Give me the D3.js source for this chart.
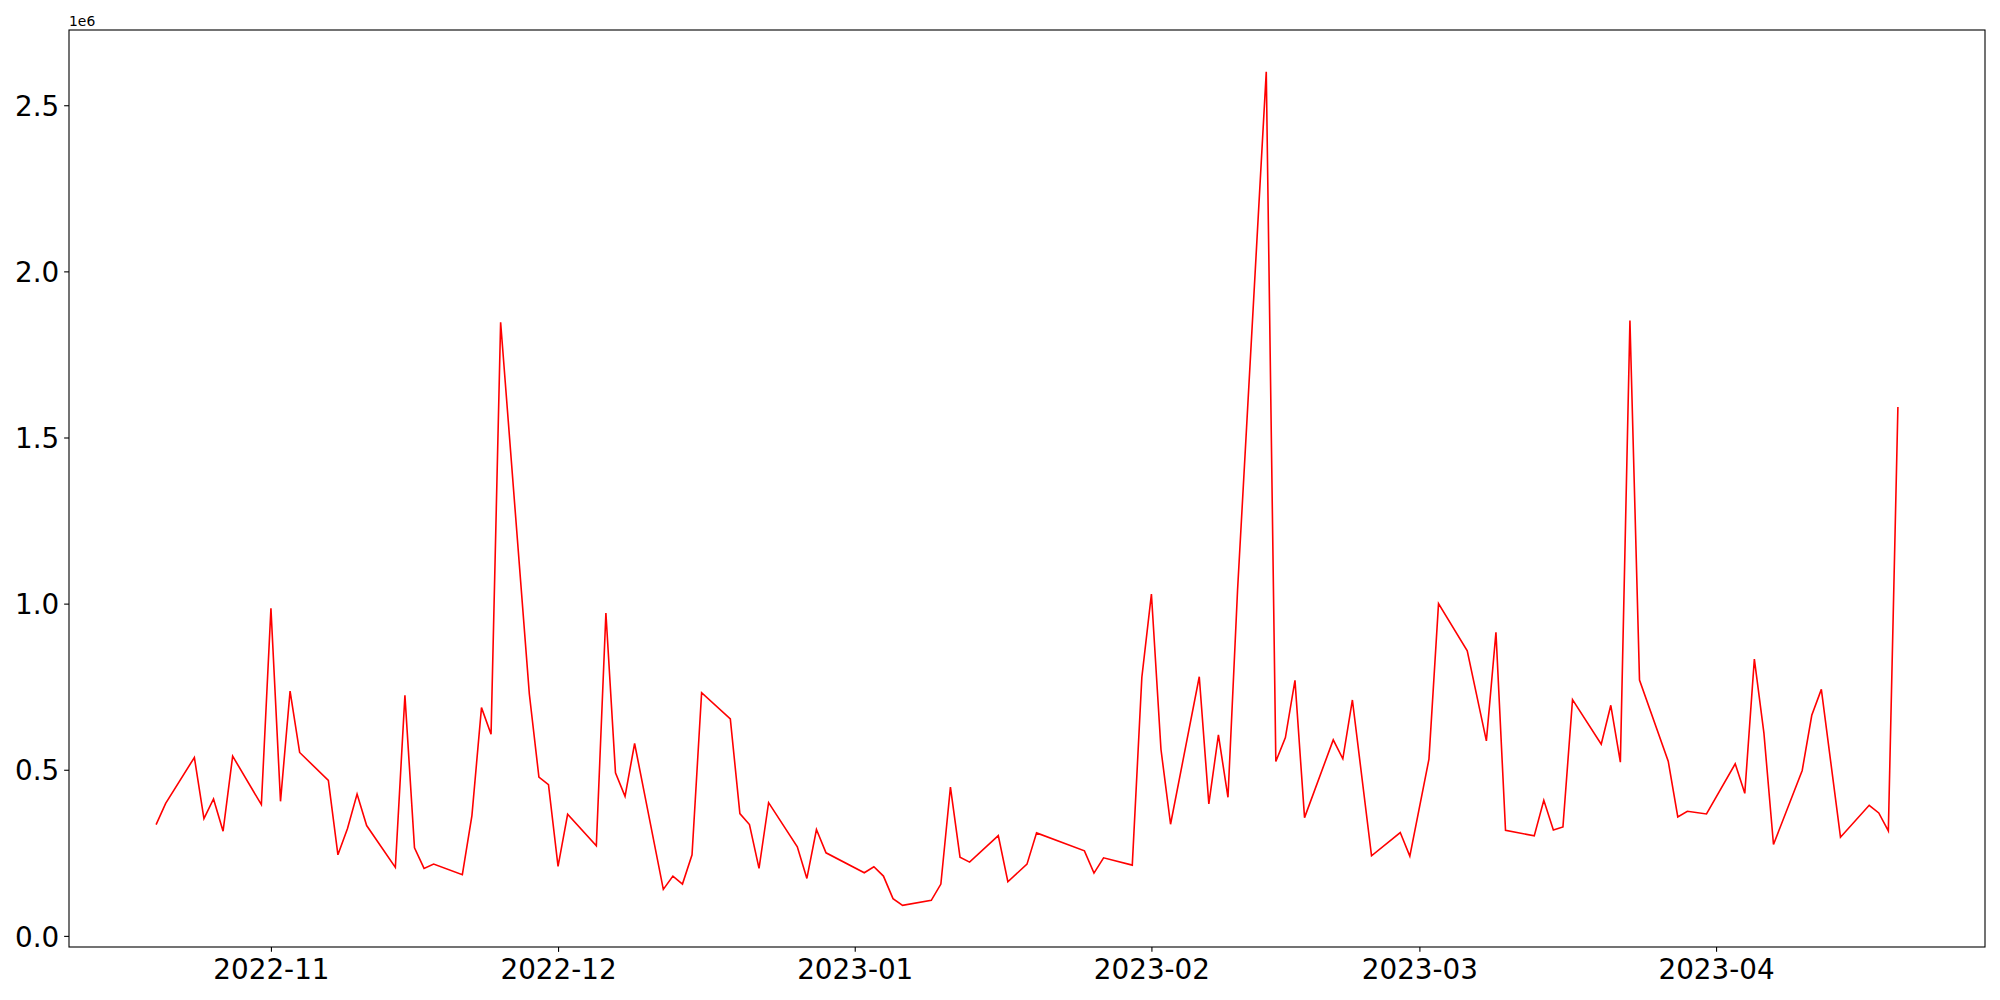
<!DOCTYPE html>
<html>
<head>
<meta charset="utf-8">
<script src="https://cdn.jsdelivr.net/npm/d3@7"></script>
<style>
  body { margin: 0; background: #fff; }
  svg text { font-family: "DejaVu Sans", sans-serif; fill: #000; }
</style>
</head>
<body>
<div id="chart"></div>
<script>
// daily values (units of 1e6)
var dates = [
    "2022-10-20", "2022-10-21", "2022-10-24", "2022-10-25", "2022-10-26", "2022-10-27", "2022-10-28", "2022-10-31",
    "2022-11-01", "2022-11-02", "2022-11-03", "2022-11-04", "2022-11-07", "2022-11-08", "2022-11-09", "2022-11-10",
    "2022-11-11", "2022-11-14", "2022-11-15", "2022-11-16", "2022-11-17", "2022-11-18", "2022-11-21", "2022-11-22",
    "2022-11-23", "2022-11-24", "2022-11-25", "2022-11-28", "2022-11-29", "2022-11-30", "2022-12-01", "2022-12-02",
    "2022-12-05", "2022-12-06", "2022-12-07", "2022-12-08", "2022-12-09", "2022-12-12", "2022-12-13", "2022-12-14",
    "2022-12-15", "2022-12-16", "2022-12-19", "2022-12-20", "2022-12-21", "2022-12-22", "2022-12-23", "2022-12-26",
    "2022-12-27", "2022-12-28", "2022-12-29", "2023-01-02", "2023-01-03", "2023-01-04", "2023-01-05", "2023-01-06",
    "2023-01-09", "2023-01-10", "2023-01-11", "2023-01-12", "2023-01-13", "2023-01-16", "2023-01-17", "2023-01-19",
    "2023-01-20", "2023-01-25", "2023-01-26", "2023-01-27", "2023-01-30", "2023-01-31", "2023-02-01", "2023-02-02",
    "2023-02-03", "2023-02-06", "2023-02-07", "2023-02-08", "2023-02-09", "2023-02-10", "2023-02-13", "2023-02-14",
    "2023-02-15", "2023-02-16", "2023-02-17", "2023-02-20", "2023-02-21", "2023-02-22", "2023-02-24", "2023-02-27",
    "2023-02-28", "2023-03-02", "2023-03-03", "2023-03-06", "2023-03-08", "2023-03-09", "2023-03-10", "2023-03-13",
    "2023-03-14", "2023-03-15", "2023-03-16", "2023-03-17", "2023-03-20", "2023-03-21", "2023-03-22", "2023-03-23",
    "2023-03-24", "2023-03-27", "2023-03-28", "2023-03-29", "2023-03-31", "2023-04-03", "2023-04-04", "2023-04-05",
    "2023-04-06", "2023-04-07", "2023-04-10", "2023-04-11", "2023-04-12", "2023-04-14", "2023-04-17", "2023-04-18",
    "2023-04-19", "2023-04-20"
];
var values = [
    0.335, 0.399, 0.537, 0.353, 0.412, 0.315, 0.541, 0.395,
    0.986, 0.405, 0.737, 0.552, 0.468, 0.244, 0.323, 0.427,
    0.332, 0.206, 0.724, 0.265, 0.203, 0.216, 0.184, 0.362,
    0.687, 0.607, 1.847, 0.728, 0.478, 0.455, 0.209, 0.366,
    0.271, 0.972, 0.491, 0.420, 0.579, 0.140, 0.180, 0.156,
    0.244, 0.732, 0.653, 0.368, 0.335, 0.203, 0.401, 0.268,
    0.173, 0.320, 0.250, 0.190, 0.208, 0.180, 0.112, 0.092,
    0.107, 0.156, 0.448, 0.237, 0.222, 0.302, 0.163, 0.216,
    0.310, 0.256, 0.189, 0.235, 0.213, 0.778, 1.029, 0.561,
    0.336, 0.780, 0.397, 0.605, 0.417, 1.040, 2.601, 0.525,
    0.597, 0.769, 0.356, 0.590, 0.533, 0.710, 0.241, 0.311,
    0.240, 0.532, 1.000, 0.858, 0.587, 0.914, 0.318, 0.301,
    0.408, 0.319, 0.328, 0.711, 0.577, 0.694, 0.523, 1.852,
    0.770, 0.526, 0.358, 0.375, 0.367, 0.518, 0.429, 0.833,
    0.610, 0.275, 0.498, 0.664, 0.742, 0.297, 0.393, 0.370,
    0.316, 1.592
];
var xTickLabels = ["2022-11", "2022-12", "2023-01", "2023-02", "2023-03", "2023-04"];
var yTickValues = [0, 0.5, 1.0, 1.5, 2.0, 2.5];

var svgWidth = 2000;
var svgHeight = 1000;
var margin = { top: 30, right: 15, bottom: 53, left: 69 };
var width = svgWidth - margin.left - margin.right;
var height = svgHeight - margin.top - margin.bottom;
var tickLen = 4.86;
var fontSize = 27.8;

var parseDate = d3.utcParse("%Y-%m-%d");
var parseMonth = d3.utcParse("%Y-%m");
var data = dates.map(function (d, i) {
    return { date: parseDate(d), value: values[i] };
});

var svg = d3.select("#chart")
    .append("svg")
    .attr("width", svgWidth)
    .attr("height", svgHeight)
    .append("g")
    .attr("transform", "translate(" + margin.left + "," + margin.top + ")");

// matplotlib-like 5% padding on both axes
var xExt = d3.extent(data, function (d) { return d.date; });
var xPad = (xExt[1] - xExt[0]) * 0.05;
var x = d3.scaleUtc()
    .domain([new Date(+xExt[0] - xPad), new Date(+xExt[1] + xPad)])
    .range([0, width]);

var yExt = d3.extent(values);
var yPad = (yExt[1] - yExt[0]) * 0.05;
var y = d3.scaleLinear()
    .domain([yExt[0] - yPad, yExt[1] + yPad])
    .range([height, 0]);

//Line
var line = d3.line()
    .x(function (d) { return x(d.date); })
    .y(function (d) { return y(d.value); });

svg.append("path")
    .datum(data)
    .attr("fill", "none")
    .attr("stroke", "#ff0000")
    .attr("stroke-width", 1.6)
    .attr("stroke-linejoin", "miter")
    .attr("d", line);

//X axis
var xAxis = svg.append("g")
    .attr("transform", "translate(0," + height + ")")
    .call(d3.axisBottom(x)
        .tickValues(xTickLabels.map(parseMonth))
        .tickFormat(d3.utcFormat("%Y-%m"))
        .tickSize(tickLen)
        .tickSizeOuter(0));
xAxis.select(".domain").remove();
xAxis.selectAll(".tick line").attr("stroke", "#000").attr("stroke-width", 1.1);
xAxis.selectAll(".tick text")
    .attr("y", 31.7)
    .attr("dy", null)
    .style("font-size", fontSize + "px")
    .style("font-family", "'DejaVu Sans', sans-serif");

//Y axis
var yAxis = svg.append("g")
    .call(d3.axisLeft(y)
        .tickValues(yTickValues)
        .tickFormat(d3.format(".1f"))
        .tickSize(tickLen)
        .tickSizeOuter(0));
yAxis.select(".domain").remove();
yAxis.selectAll(".tick line").attr("stroke", "#000").attr("stroke-width", 1.1);
yAxis.selectAll(".tick text")
    .attr("x", -tickLen - 4.86)
    .attr("dy", "0.364em")
    .style("font-size", fontSize + "px")
    .style("font-family", "'DejaVu Sans', sans-serif");

// offset label
svg.append("text")
    .attr("x", 0)
    .attr("y", -4)
    .style("font-size", "13.9px")
    .text("1e6");

// frame
svg.append("rect")
    .attr("width", width)
    .attr("height", height)
    .attr("fill", "none")
    .attr("stroke", "#000")
    .attr("stroke-width", 1.1);
</script>
</body>
</html>
